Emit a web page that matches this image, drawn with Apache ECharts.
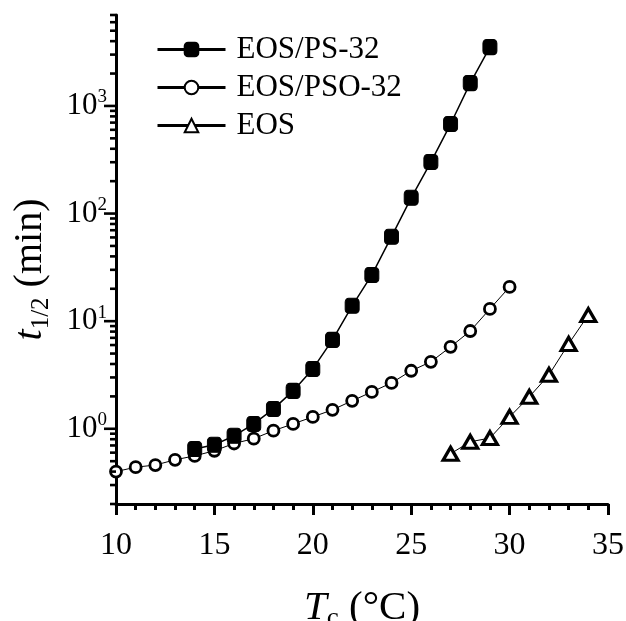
<!DOCTYPE html>
<html><head><meta charset="utf-8">
<script src="https://cdn.jsdelivr.net/npm/echarts@6/dist/echarts.min.js"></script>
<style>html,body{margin:0;padding:0;background:#fff}#c{width:626px;height:621px}</style>
</head><body><div id="c"></div>
<script>
// ---- data ----
const seriesNames = ['EOS/PS-32', 'EOS/PSO-32', 'EOS'];
const tempPS  = [14, 15, 16, 17, 18, 19, 20, 21, 22, 23, 24, 25, 26, 27, 28, 29];
const halfPS  = [0.65, 0.71, 0.86, 1.11, 1.53, 2.25, 3.6, 6.7, 13.9, 26.9, 61, 140, 301, 679, 1630, 3520];
const tempPSO = [10, 11, 12, 13, 14, 15, 16, 17, 18, 19, 20, 21, 22, 23, 24, 25, 26, 27, 28, 29, 30];
const halfPSO = [0.40, 0.44, 0.46, 0.515, 0.56, 0.625, 0.73, 0.81, 0.96, 1.11, 1.29, 1.5, 1.82, 2.2, 2.67, 3.46, 4.19, 5.77, 8.1, 13.0, 20.8];
const tempEOS = [27, 28, 29, 30, 31, 32, 33, 34];
const halfEOS = [0.586, 0.757, 0.82, 1.29, 1.98, 3.17, 6.15, 11.4];
const xTicks = [10, 15, 20, 25, 30, 35];
const yMajorTicks = [1, 10, 100, 1000];
const yMinorTicks = [0.2, 0.3, 0.4, 0.5, 0.6, 0.7, 0.8, 0.9,
  2, 3, 4, 5, 6, 7, 8, 9, 20, 30, 40, 50, 60, 70, 80, 90,
  200, 300, 400, 500, 600, 700, 800, 900, 2000, 3000, 4000, 5000, 6000, 7000];

const X_MIN = xTicks[0], X_MAX = xTicks[xTicks.length - 1];
const Y_MIN = 0.2, Y_MAX = 7000;
const FONT = '"Liberation Serif", "Times New Roman", serif';

const zip = (xs, ys) => xs.map((x, i) => [x, ys[i]]);

const chart = echarts.init(document.getElementById('c'), null, {renderer: 'canvas'});
chart.setOption({
  animation: false,
  backgroundColor: '#fff',
  grid: {left: 116, right: 18, top: 15, bottom: 117, containLabel: false, outerBoundsMode: 'none'},
  legend: {
    orient: 'vertical', left: 151, top: 29,
    itemWidth: 68, itemHeight: 17, itemGap: 7,
    data: seriesNames,
    lineStyle: {width: 3, color: '#000'},
    textStyle: {fontFamily: FONT, fontSize: 31, color: '#000', padding: [0, 0, 0, 6]}
  },
  xAxis: {
    type: 'value', min: X_MIN, max: X_MAX, interval: 5,
    axisLine: {show: true, lineStyle: {color: '#000', width: 3}},
    axisTick: {show: true, length: 11, lineStyle: {color: '#000', width: 3}},
    minorTick: {show: true, splitNumber: 5, length: 6, lineStyle: {color: '#000', width: 3}},
    splitLine: {show: false},
    axisLabel: {fontFamily: FONT, fontSize: 32, color: '#000', margin: 26},
    name: '{i|T}{s|c}{n| (°C)}',
    nameLocation: 'middle', nameGap: 80,
    nameTextStyle: {
      rich: {
        i: {fontFamily: FONT, fontStyle: 'italic', fontSize: 41, color: '#000', lineHeight: 48},
        s: {fontFamily: FONT, fontSize: 27, color: '#000', verticalAlign: 'bottom', lineHeight: 48},
        n: {fontFamily: FONT, fontSize: 41, color: '#000', lineHeight: 48}
      }
    }
  },
  yAxis: {
    type: 'log', logBase: 10, min: Y_MIN, max: Y_MAX,
    axisLine: {show: true, lineStyle: {color: '#000', width: 3}},
    axisTick: {show: false},
    splitLine: {show: false},
    axisLabel: {
      margin: 9,
      showMinLabel: false, showMaxLabel: false,
      formatter: function (v) {
        const e = Math.log10(v);
        if (Math.abs(e - Math.round(e)) > 1e-6) return '';
        return '{b|10}{s|' + Math.round(e) + '}';
      },
      rich: {
        b: {fontFamily: FONT, fontSize: 31, color: '#000', lineHeight: 36},
        s: {fontFamily: FONT, fontSize: 19, color: '#000', verticalAlign: 'top', lineHeight: 36}
      }
    },
    name: '{i|t}{s|1/2}{n| (min)}',
    nameLocation: 'middle', nameGap: 62, nameRotate: 90,
    nameTextStyle: {
      padding: [0, 20, 0, 0],
      rich: {
        i: {fontFamily: FONT, fontStyle: 'italic', fontSize: 40, color: '#000', lineHeight: 48},
        s: {fontFamily: FONT, fontSize: 25, color: '#000', verticalAlign: 'bottom', lineHeight: 48},
        n: {fontFamily: FONT, fontSize: 40, color: '#000', lineHeight: 48}
      }
    }
  },
  series: [
    {
      name: seriesNames[0], type: 'line', data: zip(tempPS, halfPS),
      symbol: 'roundRect', symbolSize: [14, 15],
      itemStyle: {color: '#000', borderColor: '#000', borderWidth: 1},
      lineStyle: {color: '#000', width: 1.5}, z: 3
    },
    {
      name: seriesNames[1], type: 'line', data: zip(tempPSO, halfPSO),
      symbol: 'circle', symbolSize: 11,
      itemStyle: {color: '#fff', borderColor: '#000', borderWidth: 2.8},
      lineStyle: {color: '#000', width: 1}, z: 2
    },
    {
      name: seriesNames[2], type: 'line', data: zip(tempEOS, halfEOS),
      symbol: 'triangle', symbolSize: [15, 13],
      itemStyle: {color: '#fff', borderColor: '#000', borderWidth: 3.2},
      lineStyle: {color: '#000', width: 1}, z: 2
    },
    {
      type: 'custom', silent: true, clip: false, z: 5,
      data: yMajorTicks.map(v => [v, 12]).concat(yMinorTicks.map(v => [v, 6])),
      encode: {y: 0},
      renderItem: function (params, api) {
        const v = api.value(0), len = api.value(1);
        const p = api.coord([X_MIN, v]);
        return {
          type: 'line',
          shape: {x1: p[0] - len, y1: p[1], x2: p[0], y2: p[1]},
          style: {stroke: '#000', lineWidth: 2.6}
        };
      }
    }
  ]
});
</script>
</body></html>
